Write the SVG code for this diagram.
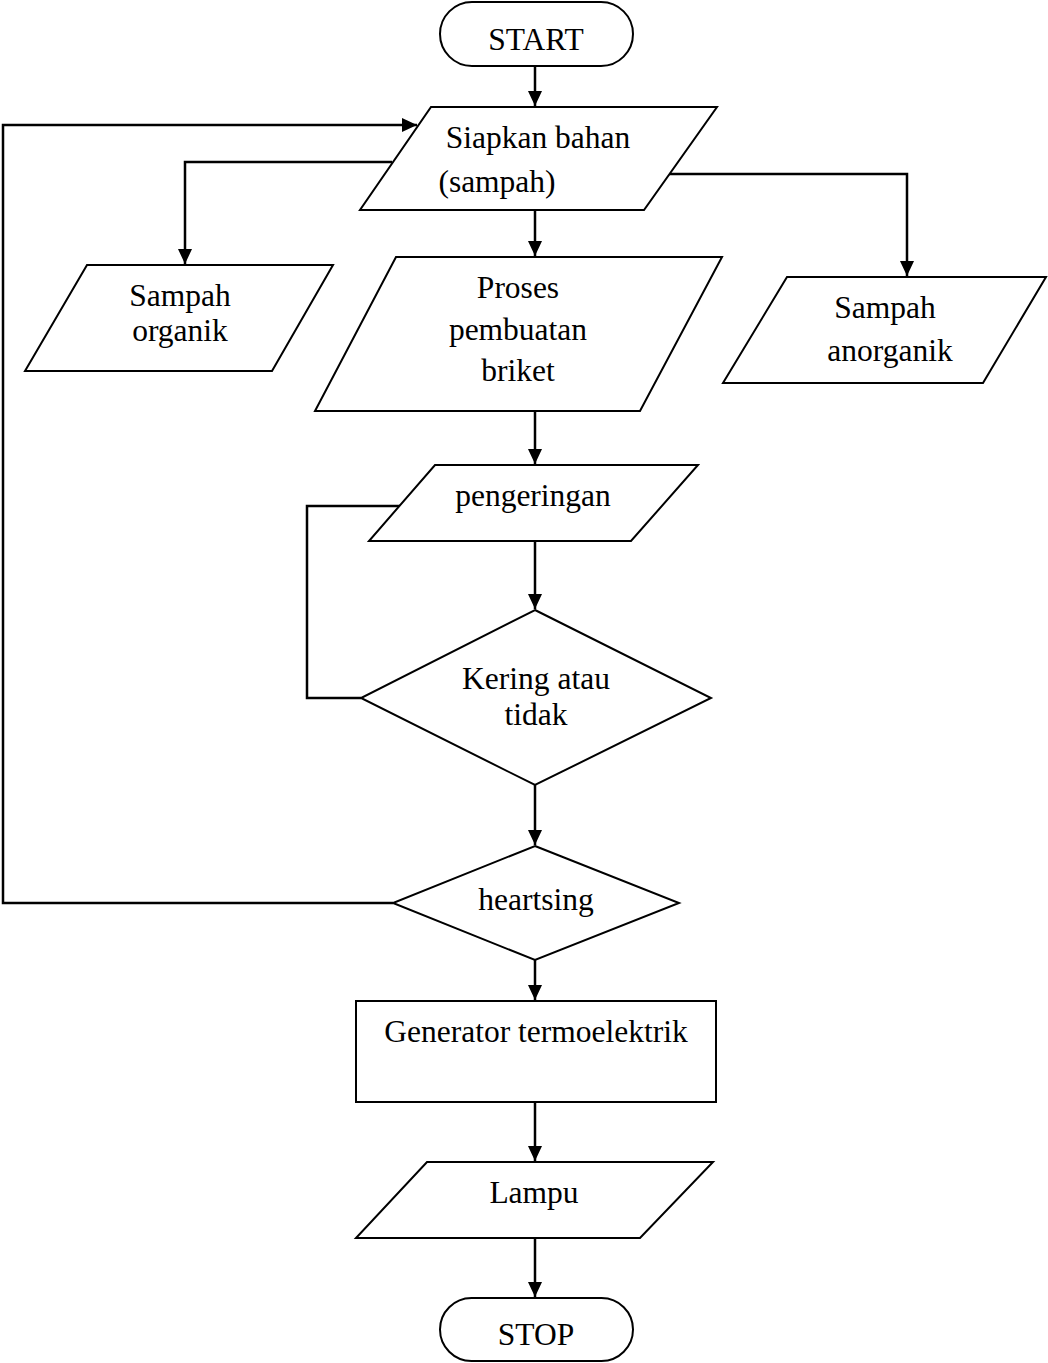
<svg xmlns="http://www.w3.org/2000/svg" width="1048" height="1363" viewBox="0 0 1048 1363">
<style>
.s{fill:#fff;stroke:#000;stroke-width:2}
.c{fill:none;stroke:#000;stroke-width:2.5}
.t{font-family:"Liberation Serif","Times New Roman",serif;font-size:31.5px;fill:#000;text-anchor:middle}
</style>
<defs>
<marker id="ah" markerUnits="userSpaceOnUse" markerWidth="16" markerHeight="14" refX="15" refY="7" orient="auto">
<path d="M0,0 L15,7 L0,14 z" fill="#000"/>
</marker>
</defs>
<rect width="1048" height="1363" fill="#fff"/>
<g id="connectors">
<path class="c" d="M535,66 V106" marker-end="url(#ah)"/>
<path class="c" d="M535,210 V256" marker-end="url(#ah)"/>
<path class="c" d="M392,162 H185 V264" marker-end="url(#ah)"/>
<path class="c" d="M668,174 H907 V276" marker-end="url(#ah)"/>
<path class="c" d="M535,411 V464" marker-end="url(#ah)"/>
<path class="c" d="M535,541 V609" marker-end="url(#ah)"/>
<path class="c" d="M402,506 H307 V698 H361"/>
<path class="c" d="M535,785 V845" marker-end="url(#ah)"/>
<path class="c" d="M393,903 H3 V125 H417" marker-end="url(#ah)"/>
<path class="c" d="M535,960 V1000" marker-end="url(#ah)"/>
<path class="c" d="M535,1102 V1161" marker-end="url(#ah)"/>
<path class="c" d="M535,1238 V1297" marker-end="url(#ah)"/>
</g>
<g id="start">
<rect class="s" x="440" y="2" width="193" height="64" rx="32"/>
<text class="t" x="536" y="50">START</text>
</g>
<g id="siapkan">
<polygon class="s" points="431,107 717,107 644,210 360,210"/>
<text class="t" x="538" y="148">Siapkan bahan</text>
<text class="t" x="497" y="192">(sampah)</text>
</g>
<g id="organik">
<polygon class="s" points="87,265 333,265 272,371 25,371"/>
<text class="t" x="180" y="306">Sampah</text>
<text class="t" x="180" y="341">organik</text>
</g>
<g id="proses">
<polygon class="s" points="396,257 722,257 640,411 315,411"/>
<text class="t" x="518" y="298">Proses</text>
<text class="t" x="518" y="340">pembuatan</text>
<text class="t" x="518" y="381">briket</text>
</g>
<g id="anorganik">
<polygon class="s" points="787,277 1046,277 983,383 723,383"/>
<text class="t" x="885" y="318">Sampah</text>
<text class="t" x="890" y="361">anorganik</text>
</g>
<g id="pengeringan">
<polygon class="s" points="435,465 698,465 631,541 369,541"/>
<text class="t" x="533" y="506">pengeringan</text>
</g>
<g id="kering">
<polygon class="s" points="535,610 711,698 535,785 361,698"/>
<text class="t" x="536" y="689">Kering atau</text>
<text class="t" x="536" y="725">tidak</text>
</g>
<g id="heartsing">
<polygon class="s" points="535,846 679,903 535,960 393,903"/>
<text class="t" x="536" y="910">heartsing</text>
</g>
<g id="generator">
<rect class="s" x="356" y="1001" width="360" height="101"/>
<text class="t" x="536" y="1042">Generator termoelektrik</text>
</g>
<g id="lampu">
<polygon class="s" points="427,1162 713,1162 640,1238 356,1238"/>
<text class="t" x="534" y="1203">Lampu</text>
</g>
<g id="stop">
<rect class="s" x="440" y="1298" width="193" height="63" rx="31.5"/>
<text class="t" x="536" y="1345">STOP</text>
</g>
</svg>
